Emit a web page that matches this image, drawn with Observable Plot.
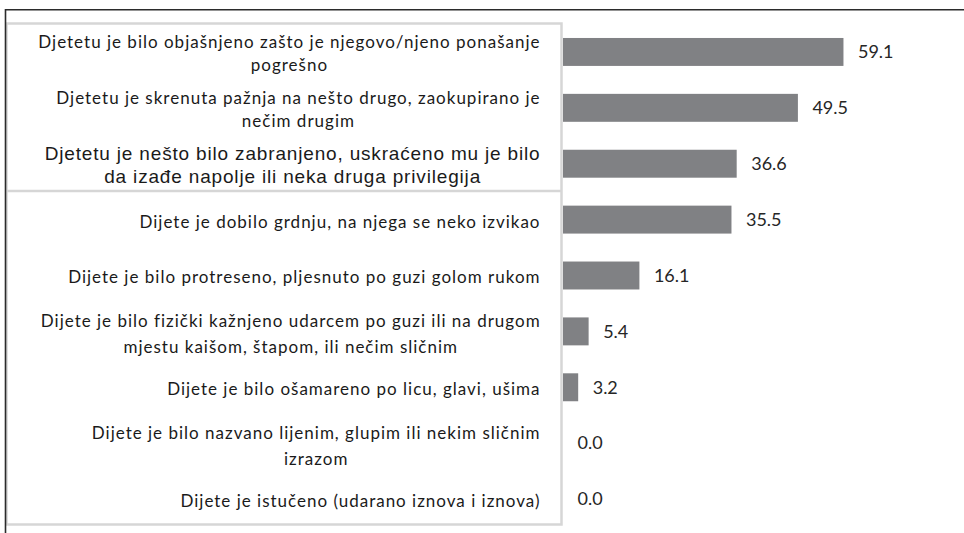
<!DOCTYPE html>
<html>
<head>
<meta charset="utf-8">
<script src="https://cdn.jsdelivr.net/npm/d3@7"></script>
<script src="https://cdn.jsdelivr.net/npm/@observablehq/plot@0.6"></script>
<style>
  html, body { margin: 0; padding: 0; background: #fff; }
  #chart svg { display: block; }
</style>
</head>
<body>
<div id="chart"></div>
<script>
// ---- data ----
const categories = [
  "Djetetu je bilo objašnjeno zašto je njegovo/njeno ponašanje\npogrešno",
  "Djetetu je skrenuta pažnja na nešto drugo, zaokupirano je\nnečim drugim",
  "Djetetu je nešto bilo zabranjeno, uskraćeno mu je bilo\nda izađe napolje ili neka druga privilegija",
  "Dijete je dobilo grdnju, na njega se neko izvikao",
  "Dijete je bilo protreseno, pljesnuto po guzi golom rukom",
  "Dijete je bilo fizički kažnjeno udarcem po guzi ili na drugom\nmjestu kaišom, štapom, ili nečim sličnim",
  "Dijete je bilo ošamareno po licu, glavi, ušima",
  "Dijete je bilo nazvano lijenim, glupim ili nekim sličnim\nizrazom",
  "Dijete je istučeno (udarano iznova i iznova)"
];
const values = [59.1, 49.5, 36.6, 35.5, 16.1, 5.4, 3.2, 0.0, 0.0];

// ---- styling (kept apart from data) ----
const W = 964, H = 533;
const plotLeft = 563;
const labelGap = 23;
const normalFont = {family: "Lato", size: 17, lineHeight: 1.36, spacing: 1.0};
const specialFont = {family: "Liberation Sans", size: 19, lineHeight: 1.2, spacing: 0.83};
const labelFonts = categories.map((c, i) =>
  i === 2 ? specialFont : (c.includes("\n") && i > 2 ? {...normalFont, lineHeight: 1.53} : normalFont));

const rows = categories.map((label, i) => ({label, value: values[i]}));

const ctx = document.createElement("canvas").getContext("2d");
function widest(text, f) {
  ctx.font = `${f.size}px "${f.family}"`;
  return d3.max(text.split("\n"), l => ctx.measureText(l).width + f.spacing * l.length);
}

const labelMarks = rows.map((d, i) => {
  const f = labelFonts[i];
  const w = widest(d.label, f);
  return Plot.text([d], {
    y: "label",
    text: "label",
    frameAnchor: "left",
    dx: -(labelGap + w / 2),
    textAnchor: "middle",
    lineAnchor: "middle",
    lineHeight: f.lineHeight,
    fontFamily: f.family,
    fontSize: f.size,
    fill: "#1a1a1a"
  });
});

const chart = Plot.plot({
  width: W,
  height: H,
  marginLeft: plotLeft,
  marginRight: 0,
  marginTop: 24,
  marginBottom: 6,
  style: {fontFamily: "Lato", background: "#fff", overflow: "visible"},
  x: {domain: [0, 84.5], axis: null},
  y: {domain: categories, paddingInner: 0.5, paddingOuter: 0.25, round: false, axis: null},
  marks: [
    Plot.barX(rows, {x: "value", y: "label", fill: "#808184"}),
    Plot.text(rows, {
      x: "value", y: "label", text: d => d.value.toFixed(1),
      dx: 14, textAnchor: "start", fontSize: 18, fontFamily: "Lato", fill: "#262626"
    }),
    ...labelMarks
  ]
});

const svg = d3.select(chart);
document.getElementById("chart").appendChild(chart);

// letter spacing for category labels (Calibri-like width)
svg.selectAll("text").each(function() {
  const t = this.textContent.trim();
  if (!isNaN(+t)) return;
  const fam = getComputedStyle(this).fontFamily;
  const sp = fam.includes("Liberation") ? specialFont.spacing : normalFont.spacing;
  this.setAttribute("letter-spacing", sp);
  this.style.letterSpacing = sp + "px";
});

// decorations: outer border lines and label box
svg.insert("rect", ":first-child")
  .attr("x", 6.5).attr("y", 23.5).attr("width", 555).attr("height", 501)
  .attr("fill", "none").attr("stroke", "#d6d6d6").attr("stroke-width", 2.5);
svg.append("line")
  .attr("x1", 6.5).attr("x2", 561).attr("y1", 191).attr("y2", 191)
  .attr("stroke", "#d6d6d6").attr("stroke-width", 2.5);
svg.append("path")
  .attr("d", `M5.5,${H} V9.7 H${W}`)
  .attr("fill", "none").attr("stroke", "#2b2b2b").attr("stroke-width", 1.6);
</script>
</body>
</html>
